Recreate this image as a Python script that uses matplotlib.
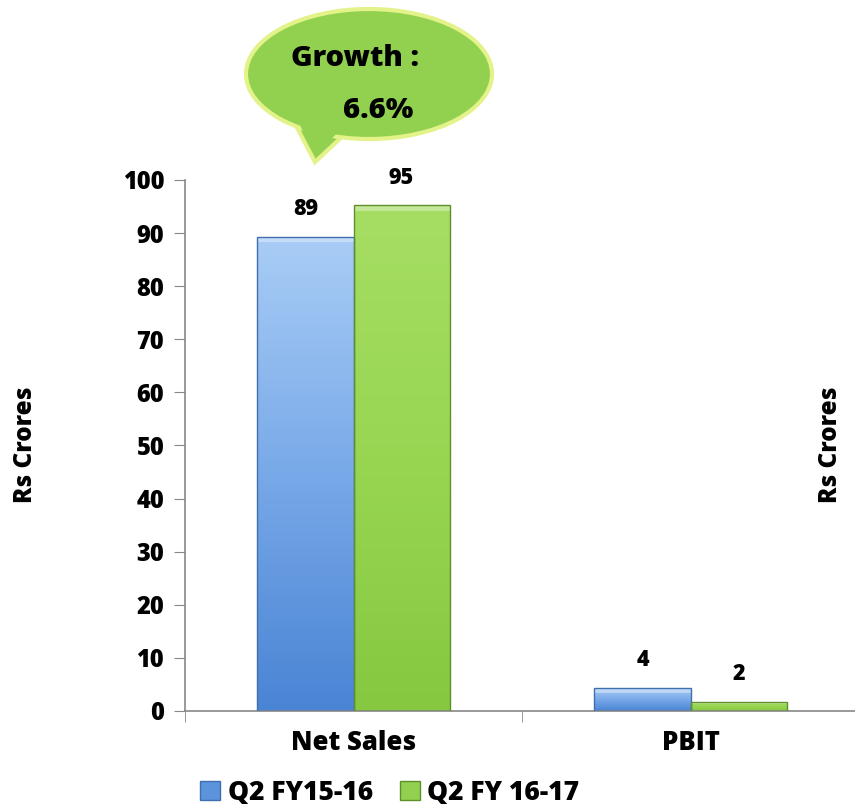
import numpy as np
import matplotlib.pyplot as plt
from matplotlib.patches import Ellipse, Polygon, Rectangle
from matplotlib.colors import LinearSegmentedColormap

categories = ["Net Sales", "PBIT"]
series_names = ["Q2 FY15-16", "Q2 FY 16-17"]
q2_fy1516 = [89.3, 4.3]
q2_fy1617 = [95.2, 1.7]
growth_text = ["Growth :", "6.6%"]
yticks = [0, 10, 20, 30, 40, 50, 60, 70, 80, 90, 100]

plt.rcParams['font.family'] = ['Open Sans', 'DejaVu Sans']
plt.rcParams['font.weight'] = 800
WT = 800

blue_cmap = LinearSegmentedColormap.from_list("b", ["#4a84d4", "#78a9e8", "#a9cdf6"])
green_cmap = LinearSegmentedColormap.from_list("g", ["#86c840", "#98d652", "#a6de64"])

fig = plt.figure(figsize=(8.55, 8.06), dpi=100)
ax = fig.add_axes([185/855, 95/806, 674/855, 531/806])

x = np.arange(len(categories))
w = 0.285


def gradient_bar(ax, xc, h, cmap, edge):
    bar = ax.bar(xc, h, w, color='none', edgecolor=edge, linewidth=1.0, zorder=3)[0]
    grad = np.linspace(0, 1, 256).reshape(-1, 1)
    im = ax.imshow(grad, cmap=cmap, origin='lower', aspect='auto',
                   extent=(xc - w/2, xc + w/2, 0, h), zorder=2)
    im.set_clip_path(bar)
    # bevel highlight along the top
    ax.add_patch(Rectangle((xc - w/2, h - min(1.0, h*0.25)), w, min(1.0, h*0.25),
                           facecolor='white', alpha=0.35, edgecolor='none', zorder=2.5))
    return bar


for i in range(len(categories)):
    gradient_bar(ax, x[i] - w/2, q2_fy1516[i], blue_cmap, "#3f6fae")
    gradient_bar(ax, x[i] + w/2, q2_fy1617[i], green_cmap, "#5f8f2a")
    ax.text(x[i] - w/2, q2_fy1516[i] + 3, f"{q2_fy1516[i]:.0f}", ha='center', va='bottom',
            fontsize=15.5, fontweight=WT)
    ax.text(x[i] + w/2, q2_fy1617[i] + 3, f"{q2_fy1617[i]:.0f}", ha='center', va='bottom',
            fontsize=15.5, fontweight=WT)

ax.set_xlim(-0.5, 1.5)
ax.set_ylim(0, 100)
ax.set_yticks(yticks)
ax.set_xticks(x)
ax.set_xticklabels(categories, fontsize=18.5, fontweight=WT)
ax.set_xticks([-0.5, 0.5, 1.5], minor=True)
ax.tick_params(axis='x', which='major', length=0, pad=14)
ax.tick_params(axis='x', which='minor', length=8, color='#888888')
ax.tick_params(axis='y', length=8, color='#888888', labelsize=17, pad=7)
for lab in ax.get_yticklabels():
    lab.set_fontweight(WT)
for s in ['top', 'right']:
    ax.spines[s].set_visible(False)
for s in ['left', 'bottom']:
    ax.spines[s].set_color('#888888')
    ax.spines[s].set_linewidth(1.2)

fig.text(25/855, 1 - 445/806, "Rs Crores", rotation=90, ha='center', va='center',
         fontsize=17.5, fontweight=WT)
fig.text(830/855, 1 - 445/806, "Rs Crores", rotation=90, ha='center', va='center',
         fontsize=17.5, fontweight=WT)

# legend
handles = [Rectangle((0, 0), 1, 1, facecolor="#5b93dc", edgecolor="#3f6fae"),
           Rectangle((0, 0), 1, 1, facecolor="#92d050", edgecolor="#5f8f2a")]
fig.legend(handles, series_names, loc='center', bbox_to_anchor=(390/855, 1 - 793/806),
           ncol=2, frameon=False, handlelength=0.75, handleheight=0.75,
           handletextpad=0.3, columnspacing=1.0, prop={'weight': WT, 'size': 19})

# speech bubble in pixel coordinates
ov = fig.add_axes([0, 0, 1, 1])
ov.set_xlim(0, 855)
ov.set_ylim(806, 0)
ov.axis('off')
fill = "#92d050"
edge = "#e4f28a"
tail = [(292, 118), (315, 162), (345, 134)]
ov.add_patch(Polygon(tail, closed=True, facecolor=fill, edgecolor=edge, linewidth=3, zorder=1))
ov.add_patch(Ellipse((369, 74), 246, 130, facecolor=fill, edgecolor=edge, linewidth=3, zorder=2))
ov.add_patch(Polygon([(295, 115), (315, 156), (342, 128)], closed=True,
                     facecolor=fill, edgecolor='none', zorder=3))
ov.text(355, 58, growth_text[0], ha='center', va='center', fontsize=21, fontweight=WT, zorder=4)
ov.text(378, 110, growth_text[1], ha='center', va='center', fontsize=21, fontweight=WT, zorder=4)

fig.savefig("out.png", dpi=100)
